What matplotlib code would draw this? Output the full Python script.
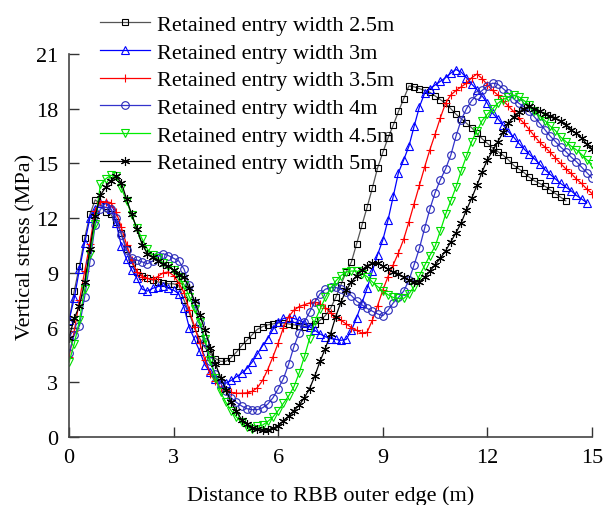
import matplotlib
matplotlib.use("Agg")
import matplotlib.pyplot as plt
import numpy as np

# distance grid (m), every 0.15 m
step = 0.15

labels = ["Retained entry width 2.5m", "Retained entry width 3m", "Retained entry width 3.5m",
          "Retained entry width 4m", "Retained entry width 4.5m", "Retained entry width 5m"]

# vertical stress (MPa)
w25 = [6.3, 8.0, 9.4, 10.9, 12.2, 13.0, 12.8, 12.35, 12.2, 11.8,
       11.2, 10.3, 9.55, 9.05, 8.85, 8.7, 8.6, 8.5, 8.45, 8.4,
       8.4, 8.3, 7.5, 6.8, 5.95, 5.4, 4.9, 4.55, 4.3, 4.15,
       4.15, 4.35, 4.65, 5.0, 5.3, 5.6, 5.9, 6.05, 6.15, 6.2,
       6.25, 6.25, 6.2, 6.15, 6.1, 6.05, 6.1, 6.2, 6.4, 6.65,
       7.05, 7.65, 8.35, 9.05, 9.6, 10.6, 11.6, 12.6, 13.65, 14.75,
       15.6, 16.4, 17.1, 17.85, 18.55, 19.25, 19.2, 19.1, 19.0, 18.9,
       18.7, 18.5, 18.3, 18.0, 17.7, 17.45, 17.2, 16.95, 16.65, 16.35,
       16.1, 15.85, 15.65, 15.45, 15.2, 14.9, 14.7, 14.5, 14.25, 14.05,
       13.9, 13.75, 13.55, 13.35, 13.15, 12.95]
w30 = [6.4, 7.6, 9.2, 10.65, 12.0, 12.5, 12.85, 12.85, 12.5, 11.75,
       10.5, 9.75, 9.15, 8.7, 8.1, 8.0, 8.15, 8.25, 8.3, 8.15,
       8.05, 7.85, 7.1, 6.0, 5.35, 4.7, 3.95, 3.55, 3.2, 2.95,
       2.95, 3.1, 3.3, 3.5, 3.75, 4.1, 4.55, 5.0, 5.4, 5.9,
       6.3, 6.5, 6.55, 6.5, 6.4, 6.25, 6.05, 5.85, 5.65, 5.5,
       5.4, 5.35, 5.3, 5.35, 5.85, 6.55, 7.35, 8.15, 9.1, 10.0,
       10.8, 11.9, 13.2, 14.5, 15.2, 15.95, 17.05, 18.1, 18.85, 19.1,
       19.3, 19.5, 19.7, 19.95, 20.15, 20.0, 19.7, 19.35, 19.05, 18.7,
       18.3, 17.75, 17.45, 17.1, 16.75, 16.45, 16.1, 15.8, 15.5, 15.25,
       14.95, 14.65, 14.4, 14.15, 13.9, 13.7, 13.5, 13.25, 13.05, 12.85]
w35 = [4.4, 5.8, 7.5, 9.1, 10.6, 12.4, 12.9, 12.9, 12.85, 12.35,
       11.5, 10.55, 9.7, 9.05, 8.8, 8.7, 8.65, 8.8, 9.0, 9.05,
       8.85, 8.45, 7.9, 6.95, 6.05, 5.15, 4.2, 3.45, 3.05, 2.7,
       2.55, 2.45, 2.4, 2.4, 2.42, 2.5, 2.7, 3.1, 3.7, 4.4,
       5.15, 6.0, 6.6, 6.95, 7.15, 7.25, 7.35, 7.4, 7.3, 7.1,
       6.8, 6.6, 6.4, 6.2, 6.0, 5.85, 5.7, 5.75, 6.4, 7.2,
       8.05, 8.8, 9.45, 10.1, 10.85, 11.8, 12.8, 13.8, 14.8, 15.75,
       16.6, 17.5, 18.3, 18.75, 19.0, 19.2, 19.4, 19.7, 19.9, 19.65,
       19.3, 19.0, 18.75, 18.45, 18.15, 17.85, 17.5, 17.2, 16.85, 16.5,
       16.15, 15.9, 15.6, 15.3, 15.0, 14.7, 14.45, 14.15, 13.9, 13.6,
       13.35]
w40 = [4.6, 5.6, 6.1, 7.7, 9.6, 11.6, 12.5, 12.6, 12.5, 12.0,
       11.1, 10.25, 9.8, 9.7, 9.6, 9.5, 9.65, 9.9, 10.05, 9.95,
       9.8, 9.65, 9.2, 8.35, 7.35, 6.25, 5.2, 4.15, 3.45, 2.95,
       2.5, 2.15, 1.9, 1.7, 1.55, 1.5, 1.5, 1.6, 1.8, 2.15,
       2.65, 3.2, 4.0, 4.95, 5.7, 6.3, 6.85, 7.4, 7.85, 8.1,
       8.2, 8.2, 8.1, 7.95, 7.75, 7.45, 7.25, 7.05, 6.9, 6.75,
       6.65, 6.95, 7.35, 7.65, 8.0, 8.6, 9.45, 10.35, 11.45, 12.5,
       13.4, 14.1, 14.7, 15.45, 16.5, 17.4, 18.0, 18.45, 18.75, 19.0,
       19.25, 19.4, 19.35, 19.1, 18.85, 18.55, 18.3, 18.1, 17.85, 17.55,
       17.2, 16.85, 16.5, 16.2, 15.9, 15.65, 15.35, 15.1, 14.8, 14.5,
       14.2]
w45 = [4.1, 5.1, 6.4, 8.1, 10.05, 11.7, 13.85, 14.15, 14.35, 14.3,
       13.65, 12.95, 12.15, 11.45, 10.85, 10.3, 10.0, 9.8, 9.55, 9.35,
       9.15, 8.8, 8.35, 7.7, 7.0, 6.3, 5.35, 4.2, 3.25, 2.45,
       1.9, 1.45, 1.1, 0.8, 0.55, 0.45, 0.6, 0.65, 0.85, 1.1,
       1.45, 1.85, 2.25, 2.75, 3.5, 4.4, 5.4, 6.35, 7.0, 7.65,
       8.15, 8.55, 8.85, 9.05, 9.1, 9.1, 8.95, 8.8, 8.5, 8.25,
       8.0, 7.8, 7.65, 7.6, 7.6, 7.85, 8.25, 8.85, 9.4, 9.95,
       10.45, 11.3, 12.2, 12.95, 13.7, 14.6, 15.4, 16.2, 16.8, 17.35,
       17.7, 18.0, 18.3, 18.5, 18.65, 18.75, 18.65, 18.45, 18.2, 17.9,
       17.6, 17.35, 17.05, 16.8, 16.45, 16.2, 15.95, 15.75, 15.5, 15.2,
       14.95]
w50 = [5.45, 6.5, 7.2, 8.5, 10.3, 12.1, 13.25, 13.7, 14.05, 14.3,
       13.95, 13.05, 12.2, 11.4, 10.55, 10.05, 9.85, 9.65, 9.5, 9.35,
       9.15, 8.9, 8.75, 8.15, 7.45, 6.7, 5.85, 4.9, 4.0, 3.25,
       2.6, 1.9, 1.4, 0.95, 0.7, 0.5, 0.42, 0.36, 0.38, 0.47,
       0.6, 0.9, 1.15, 1.45, 1.75, 2.15, 2.65, 3.35, 4.15, 4.85,
       5.65, 6.6, 7.4, 8.05, 8.5, 8.85, 9.15, 9.4, 9.52, 9.52,
       9.38, 9.2, 9.05, 8.95, 8.75, 8.6, 8.5, 8.5, 8.75, 9.1,
       9.45, 9.8, 10.2, 10.7, 11.2, 11.75, 12.45, 13.1, 13.8, 14.55,
       15.2, 15.7, 16.2, 16.7, 17.2, 17.55, 17.8, 18.0, 18.15, 18.0,
       17.85, 17.72, 17.6, 17.5, 17.3, 17.1, 16.85, 16.65, 16.4, 16.05,
       15.8]

series = [w25, w30, w35, w40, w45, w50]
line_colors = ["#555555", "#0000ff", "#ff0000", "#3333cc", "#00ee00", "#000000"]
mk_colors = ["#000000", "#0000ff", "#ff0000", "#2828b8", "#00dd00", "#000000"]
markers = ["s", "^", "+", "o", "v", (6, 2, 0)]
mk_sizes = [4.3, 6, 5.5, 5.5, 6, 6.5]

plt.rcParams["font.family"] = ["Liberation Serif", "DejaVu Serif"]
plt.rcParams["font.size"] = 16

fig = plt.figure(figsize=(6.03, 5.06), dpi=100)
ax = fig.add_axes([69 / 603, (506 - 438) / 506, (592 - 69) / 603, (438 - 55) / 506])

handles = []
for vals, lab, lc, mc, m, ms in zip(series, labels, line_colors, mk_colors, markers, mk_sizes):
    xs = np.arange(len(vals)) * step
    h, = ax.plot(xs, vals, color=lc, lw=0.9, marker=m, ms=ms, mfc="none",
                 mec=mc, mew=0.8, label=lab)
    handles.append(h)

ax.set_xlim(0, 15)
ax.set_ylim(0, 21)
ax.set_xticks([0, 3, 6, 9, 12, 15])
ax.set_yticks([0, 3, 6, 9, 12, 15, 18, 21])
ax.spines["top"].set_visible(False)
ax.spines["right"].set_visible(False)
for s in ["left", "bottom"]:
    ax.spines[s].set_color("#444444")
    ax.spines[s].set_linewidth(1.2)
ax.tick_params(direction="in", length=7, width=1, color="#333333", labelsize=16)
ax.tick_params(axis="x", pad=8)
ax.tick_params(axis="y", pad=8)
ax.set_xlabel("Distance to RBB outer edge (m)", fontsize=16, labelpad=13)
ax.set_ylabel("Vertical stress (MPa)", fontsize=16, labelpad=0)

fig.legend(handles=handles, loc="upper left", bbox_to_anchor=(100 / 603, 1 - 15.5 / 506),
           frameon=False, fontsize=16, handlelength=2.25, handletextpad=0.3,
           labelspacing=0.32, borderpad=0, borderaxespad=0)

fig.savefig("out.png", dpi=100)
